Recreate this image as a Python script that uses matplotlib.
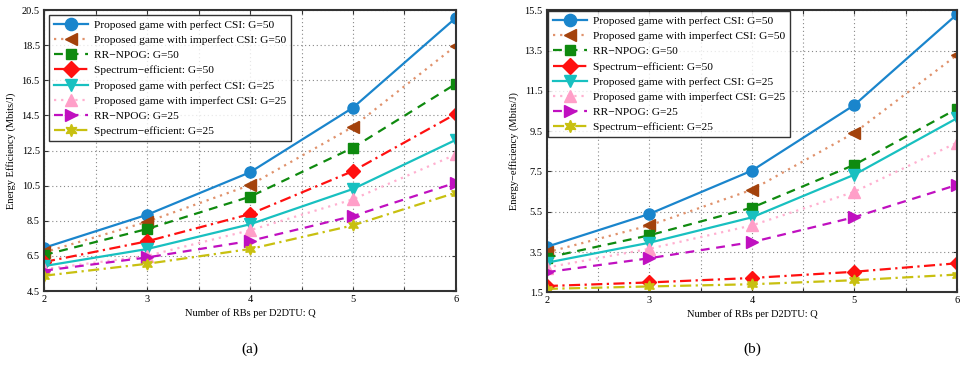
import matplotlib
matplotlib.use("Agg")
import matplotlib.pyplot as plt
import numpy as np

plt.rcParams['font.family'] = ['Liberation Serif', 'DejaVu Serif']

Q = [2, 3, 4, 5, 6]

labels = [
    "Proposed game with perfect CSI: G=50",
    "Proposed game with imperfect CSI: G=50",
    "RR\u2212NPOG: G=50",
    "Spectrum\u2212efficient: G=50",
    "Proposed game with perfect CSI: G=25",
    "Proposed game with imperfect CSI: G=25",
    "RR\u2212NPOG: G=25",
    "Spectrum\u2212efficient: G=25",
]

# Panel (a)
a_perfect50 = [6.96, 8.84, 11.26, 14.94, 20.06]
a_imperfect50 = [6.70, 8.44, 10.53, 13.85, 18.47]
a_rrnpog50 = [6.55, 8.03, 9.87, 12.66, 16.30]
a_spectrum50 = [6.15, 7.33, 8.88, 11.33, 14.59]
a_perfect25 = [5.92, 6.89, 8.30, 10.31, 13.11]
a_imperfect25 = [5.74, 6.50, 7.96, 9.72, 12.28]
a_rrnpog25 = [5.66, 6.41, 7.35, 8.77, 10.67]
a_spectrum25 = [5.37, 6.05, 6.89, 8.24, 10.10]

# Panel (b)
b_perfect50 = [3.76, 5.39, 7.54, 10.80, 15.30]
b_imperfect50 = [3.48, 4.82, 6.59, 9.42, 13.28]
b_rrnpog50 = [3.22, 4.33, 5.70, 7.83, 10.61]
b_spectrum50 = [1.81, 1.99, 2.21, 2.52, 2.94]
b_perfect25 = [2.97, 3.96, 5.22, 7.34, 10.14]
b_imperfect25 = [2.73, 3.66, 4.82, 6.49, 8.93]
b_rrnpog25 = [2.50, 3.19, 3.99, 5.23, 6.83]
b_spectrum25 = [1.67, 1.79, 1.90, 2.10, 2.38]

series_a = [a_perfect50, a_imperfect50, a_rrnpog50, a_spectrum50,
            a_perfect25, a_imperfect25, a_rrnpog25, a_spectrum25]
series_b = [b_perfect50, b_imperfect50, b_rrnpog50, b_spectrum50,
            b_perfect25, b_imperfect25, b_rrnpog25, b_spectrum25]

# style: (line color, marker color, linestyle, marker)
styles = [
    ('#1a85cc', '#1a85cc', '-', 'o'),
    ('#e0926c', '#a3420c', (0, (1, 2.2)), '<'),
    ('#0f8a0f', '#0f8a0f', (0, (4, 3)), 's'),
    ('#ff1010', '#ff1010', (0, (5, 2, 1, 2)), 'D'),
    ('#18c0c0', '#18c0c0', '-', 'v'),
    ('#ffb0d0', '#ff9fc8', (0, (1, 2.2)), '^'),
    ('#c010c0', '#c010c0', (0, (4, 3)), '>'),
    ('#c8c010', '#c8c010', (0, (5, 2, 1, 2)), (6, 1, 0)),
]
msizes = [8, 8, 7, 7, 8, 8, 8, 8]

fig = plt.figure(figsize=(9.61, 3.65), dpi=100)
ax_a = fig.add_axes([0.0458, 0.2027, 0.4287, 0.7699])
ax_b = fig.add_axes([0.569, 0.1992, 0.4268, 0.7726])

def draw(ax, series, yticks, ylabel, caption, legend_anchor):
    for s, lab, st, ms in zip(series, labels, styles, msizes):
        lc, mc, ls, mk = st
        ax.plot(Q, s, color=lc, linestyle=ls, linewidth=1.6, marker=mk,
                markersize=ms, markerfacecolor=mc, markeredgecolor=mc,
                label=lab)
    ax.set_xlim(2, 6)
    ax.set_ylim(yticks[0], yticks[-1])
    ax.set_xticks(np.arange(2, 6.01, 0.5))
    ax.set_xticklabels(['2', '', '3', '', '4', '', '5', '', '6'])
    ax.set_yticks(yticks)
    ax.set_yticklabels([f"{v:.1f}" for v in yticks])
    ax.tick_params(direction='in', length=3, labelsize=7.5, top=True,
                   right=True, color='#333333', pad=3)
    ax.grid(True, linestyle=(0, (1, 2.5)), color='#888888', linewidth=0.8)
    for sp in ax.spines.values():
        sp.set_linewidth(1.5)
        sp.set_color('#333333')
    ax.set_xlabel("Number of RBs per D2DTU: Q", fontsize=7.5, labelpad=3)
    ax.set_ylabel(ylabel, fontsize=7.5, labelpad=4)
    leg = ax.legend(loc='upper left', bbox_to_anchor=legend_anchor,
                    fontsize=8.2, frameon=True, fancybox=False,
                    edgecolor='black', handlelength=3.0, labelspacing=0.45,
                    borderpad=0.45, handletextpad=0.5, markerscale=1.1,
                    borderaxespad=0.0)
    leg.get_frame().set_linewidth(1.0)
    bb = ax.get_position()
    fig.text((bb.x0 + bb.x1) / 2, 1 - 349 / 365, caption, ha='center',
             va='center', fontsize=11)

draw(ax_a, series_a, [4.5, 6.5, 8.5, 10.5, 12.5, 14.5, 16.5, 18.5, 20.5],
     "Energy Efficiency (Mbits/J)", "(a)", (0.012, 0.982))
draw(ax_b, series_b, [1.5, 3.5, 5.5, 7.5, 9.5, 11.5, 13.5, 15.5],
     "Energy\u2212efficiency (Mbits/J)", "(b)", (0.003, 0.997))

fig.savefig("out.png", dpi=100)
